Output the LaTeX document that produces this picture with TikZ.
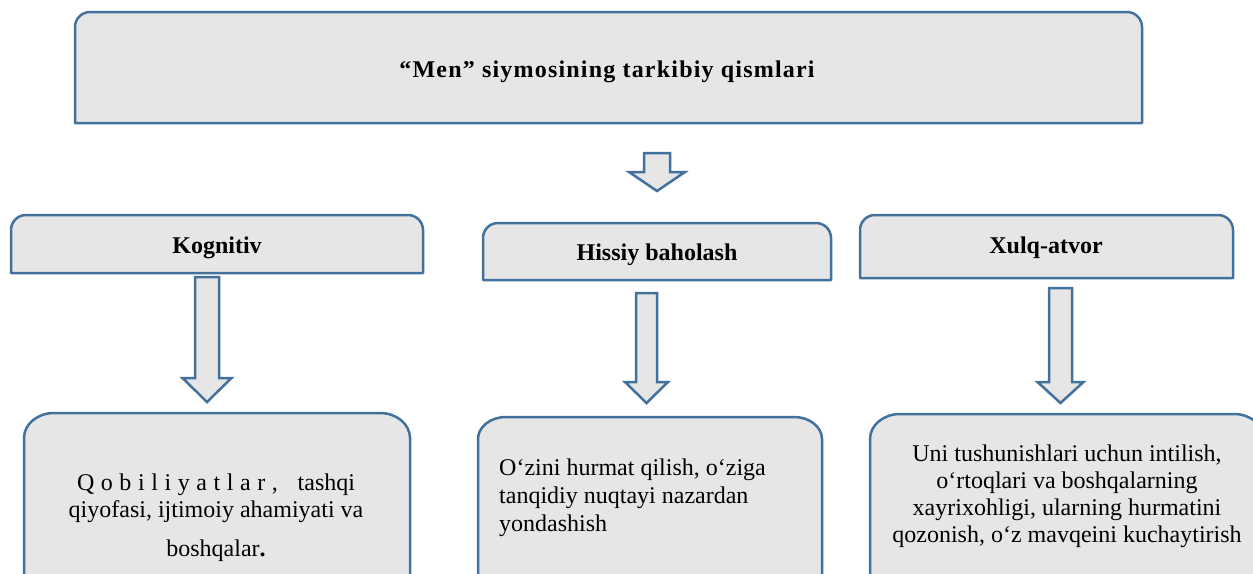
\documentclass[tikz,border=0pt]{standalone}
\usepackage{fontspec}
\setmainfont{Liberation Serif}
\newfontfamily\titlefont[LetterSpace=5]{Liberation Serif}
\definecolor{edgeblue}{RGB}{65,113,156}
\definecolor{boxgray}{RGB}{230,230,230}
\tikzset{
  boxline/.style={draw=edgeblue,fill=boxgray,line width=2.5pt,line join=round},
  arrowline/.style={draw=edgeblue,fill=boxgray,line width=2.5pt,line join=miter},
  headtext/.style={inner sep=0pt,font=\fontsize{24}{28}\selectfont\bfseries},
  bodytext/.style={inner sep=0pt,font=\fontsize{24}{27}\selectfont}
}
% box with rounded top corners: x1,y1,x2,y2,rx,ry
\newcommand\topround[6]{%
  \path[boxline] (#1,#4) -- (#1,#2+#6)
    .. controls (#1,#2+0.448*#6) and (#1+0.448*#5,#2) .. (#1+#5,#2)
    -- (#3-#5,#2)
    .. controls (#3-0.448*#5,#2) and (#3,#2+0.448*#6) .. (#3,#2+#6)
    -- (#3,#4) -- cycle;}
% block arrow pointing down: cx, ytop, yhead, ytip, shaft half width, head half width
\newcommand\blockdown[6]{%
  \path[arrowline] (#1-#5,#2) -- (#1+#5,#2) -- (#1+#5,#3) -- (#1+#6,#3)
    -- (#1,#4) -- (#1-#6,#3) -- (#1-#5,#3) -- cycle;}
\begin{document}
\begin{tikzpicture}[x=1pt,y=-1pt]
\useasboundingbox (0,0) rectangle (1253,573);
\clip (0,0) rectangle (1253,573);
\fill[white] (0,0) rectangle (1253,573);

% top box
\topround{75}{12}{1142}{123}{15}{15}
\node[headtext] (title) at (607,71.5) {\titlefont\bfseries “Men” siymosining tarkibiy qismlari};

% top arrow
\blockdown{657}{153}{172}{191}{13}{28}

% header boxes
\topround{11}{215}{423}{273}{15}{15}
\node[headtext] (kog) at (217,247.5) {Kognitiv};
\topround{483}{223}{831}{280}{15}{15}
\node[headtext] (his) at (657,254.5) {Hissiy baholash};
\topround{860}{215}{1233}{278}{15}{15}
\node[headtext] (xul) at (1046,247.5) {Xulq-atvor};

% arrows to bottom boxes
\blockdown{207}{277}{378}{402}{12}{24.5}
\blockdown{646.5}{293}{382}{403}{10.5}{21.5}
\blockdown{1060.5}{288}{382}{403}{11.5}{23}

% bottom boxes
\topround{24}{413}{410}{620}{30}{25}
\node[bodytext,align=center] (kogtxt) at (216,517.5)
  {\hbox to 278pt{Q\hfill o\hfill b\hfill i\hfill l\hfill i\hfill y\hfill a\hfill t\hfill l\hfill a\hfill r\hfill ,\hfill\hfill\hfill tashqi}\\
   qiyofasi, ijtimoiy ahamiyati va\\[12pt]
   boshqalar\textbf{.}};
\topround{478}{417}{822}{620}{28}{22}
\node[bodytext,align=left,anchor=west,font=\fontsize{24}{28}\selectfont] (histxt) at (499,498)
  {O‘zini hurmat qilish, o‘ziga\\ tanqidiy nuqtayi nazardan\\ yondashish};
\topround{870}{414}{1264}{620}{30}{25}
\node[bodytext,align=center] (xultxt) at (1067,496)
  {Uni tushunishlari uchun intilish,\\ o‘rtoqlari va boshqalarning\\ xayrixohligi, ularning hurmatini\\ qozonish, o‘z mavqeini kuchaytirish};
\end{tikzpicture}
\end{document}
